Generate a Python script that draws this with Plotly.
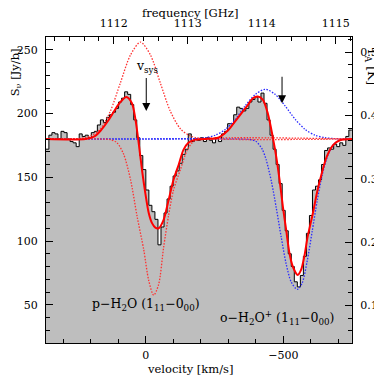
import plotly.graph_objects as go

# 通道速度 (km/s) 与观测流量 (Jy/beam)
velocity = [357, 346, 335, 324, 313, 302, 291, 280, 269, 258,
            247, 236, 225, 214, 203, 192, 181, 170, 159, 148,
            137, 126, 115, 104, 93, 82, 71, 60, 49, 38,
            27, 16, 5, -6, -17, -28, -39, -50, -61, -72,
            -83, -94, -105, -116, -127, -138, -149, -160, -171, -182,
            -193, -204, -215, -226, -237, -248, -259, -270, -281, -292,
            -303, -314, -325, -336, -347, -358, -369, -380, -391, -402,
            -413, -424, -435, -446, -457, -468, -479, -490, -501, -512,
            -523, -534, -545, -556, -567, -578, -589, -600, -611, -622,
            -633, -644, -655, -666, -677, -688, -699, -710, -721, -732,
            -743]
flux = [172, 183, 185, 184, 180, 186, 185, 180, 178, 177,
        174, 184, 182, 183, 181, 185, 186, 191, 195, 193,
        197, 199, 201, 204, 209, 212, 217, 215, 207, 195,
        181, 167, 156, 140, 128, 123, 117, 97, 111, 122,
        133, 143, 151, 155, 161, 168, 172, 184, 178, 180,
        179, 181, 178, 181, 179, 177, 181, 178, 184, 186,
        192, 192, 199, 205, 204, 202, 204, 209, 211, 213,
        209, 216, 208, 195, 183, 172, 160, 145, 124, 108,
        90, 80, 68, 64, 73, 88, 106, 120, 140, 143,
        148, 160, 171, 173, 172, 176, 174, 177, 175, 182,
        187]
chan_width = 11

# 总拟合曲线 (红色实线)
fit_v = [362, 218, 186, 162, 139, 117, 92, 70, 50, 37, 25, 13, 1, -11, -23, -35, -47,
         -65, -83, -101, -120, -137, -155, -179, -216, -263, -300, -324, -348, -372,
         -389, -407, -425, -443, -462, -474, -486, -498, -510, -522, -534, -552, -564,
         -576, -588, -607, -621, -633, -657, -681, -705, -749]
fit_s = [180, 180, 182, 187, 193.5, 201, 209, 213, 208, 195, 176, 155, 137, 122, 114, 110.5, 110,
         116.6, 132, 148, 160, 171.5, 177, 179.5, 180, 181, 187, 193.7, 200.3, 207,
         212, 213.3, 210.8, 200.3, 180.7, 166, 148, 127, 108.7, 90.4, 80, 73.4, 77.3,
         88, 103.4, 121.8, 137, 148, 166, 175.4, 179, 180]

# p-H2O 分量 (红色点线): 发射 + 吸收
ph2o_em_v = [362, 237, 200, 164, 128, 92, 55, 19, -17, -53, -89, -126, -162, -198, -749]
ph2o_em_s = [180, 180.5, 182.4, 188, 202, 224, 246, 256, 246, 224, 202, 188, 182.4, 180.5, 180]
ph2o_abs_v = [362, 164, 128, 104, 80, 55, 31, 7, -11, -29, -47, -65, -83, -101, -126, -150, -173, -198, -749]
ph2o_abs_s = [180, 180, 179.5, 177, 168, 148, 119, 93, 69, 57.5, 66, 95, 120, 140, 156, 171, 178, 180, 180]

# o-H2O+ 分量 (蓝色点线): 发射 + 吸收
oh2op_em_v = [362, -180, -216, -253, -289, -325, -361, -398, -434, -470, -506, -543, -579, -615, -651, -687, -749]
oh2op_em_s = [180, 180.3, 181, 183, 187.5, 195.4, 206, 215, 219, 215, 206, 195.4, 187.5, 183, 181, 180.3, 180]
oh2op_abs_v = [362, -343, -379, -401, -423, -437, -457, -474, -492, -510, -528, -550, -568, -586,
               -604, -623, -641, -663, -688, -725, -749]
oh2op_abs_s = [180, 180, 179.6, 178, 172, 164, 146, 126, 103, 82, 68, 62, 67, 84,
               107, 132, 152, 168, 177, 180, 180]

FONT = "DejaVu Serif"
v_range = [362, -749]
freq_range = [1111.085, 1115.22]
s_range = [20, 260]
ta_range = [0.041, 0.524]

fig = go.Figure()

# 阶梯直方图 (灰色填充)
edges = [v + chan_width / 2 for v in velocity] + [velocity[-1] - chan_width / 2]
fig.add_trace(go.Scatter(
    x=edges, y=flux + [flux[-1]],
    mode='lines', line=dict(shape='hv', color='black', width=1),
    fill='tozeroy', fillcolor='#bebebe', showlegend=False, hoverinfo='skip'
))

for vv, ss, col in [(oh2op_em_v, oh2op_em_s, '#2a2aff'), (oh2op_abs_v, oh2op_abs_s, '#2a2aff'),
                    (ph2o_em_v, ph2o_em_s, '#ff3030'), (ph2o_abs_v, ph2o_abs_s, '#ff3030')]:
    fig.add_trace(go.Scatter(
        x=vv, y=ss, mode='lines',
        line=dict(color=col, width=1.3, dash='1.5px,1.5px', shape='spline', smoothing=0.8),
        showlegend=False, hoverinfo='skip'
    ))

fig.add_trace(go.Scatter(
    x=fit_v, y=fit_s, mode='lines',
    line=dict(color='#ff0000', width=2, shape='spline', smoothing=0.8),
    showlegend=False, hoverinfo='skip'
))

# 上方频率轴、右侧 T_A 轴
fig.add_trace(go.Scatter(x=[], y=[], xaxis='x2', yaxis='y2', showlegend=False))

tick_font = dict(family=FONT, size=11, color='black')
common = dict(showline=True, linecolor='black', linewidth=1, showgrid=False, zeroline=False,
              ticks='inside', ticklen=7, tickcolor='black', tickfont=tick_font,
              automargin=False)

# 页面 body 默认有 8px 边距，所以边距各减 8
fig.update_layout(
    width=382, height=375,
    margin=dict(l=38, r=38, t=29, b=40),
    plot_bgcolor='white', paper_bgcolor='white',
    xaxis=dict(range=v_range, tickvals=[0, -500], ticklabelstandoff=2,
               minor=dict(dtick=100, tick0=0, ticks='inside', ticklen=4, tickcolor='black'),
               **common),
    yaxis=dict(range=s_range, tickvals=[50, 100, 150, 200, 250], ticklabelstandoff=5,
               minor=dict(dtick=10, tick0=0, ticks='inside', ticklen=4, tickcolor='black'),
               **common),
    xaxis2=dict(range=freq_range, overlaying='x', side='top', anchor='y', ticklabelstandoff=5,
                tickvals=[1112, 1113, 1114, 1115],
                minor=dict(dtick=0.2, tick0=1111, ticks='inside', ticklen=4, tickcolor='black'),
                **common),
    yaxis2=dict(range=ta_range, overlaying='y', side='right', anchor='x', ticklabelstandoff=5,
                tickvals=[0.1, 0.2, 0.3, 0.4, 0.5], ticktext=['0.1', '0.2', '0.3', '0.4', '0.5'],
                minor=dict(dtick=0.02, tick0=0, ticks='inside', ticklen=4, tickcolor='black'),
                **common),
)

lab_font = dict(family=FONT, size=12.5, color='black')
edge_font = dict(family=FONT, size=11.5, color='black')
c = dict(xanchor='center', yanchor='middle', showarrow=False, font=lab_font)
e = dict(xanchor='center', yanchor='middle', showarrow=False, font=edge_font)
ann = [
    dict(text='frequency [GHz]', x=0.47, y=1.077, xref='paper', yref='paper', **e),
    dict(text='velocity [km/s]', x=0.47, y=-0.0835, xref='paper', yref='paper', **e),
    dict(text='S<sub>ν</sub> [Jy/b]', x=-0.101, y=0.885, xref='paper', yref='paper',
         textangle=-90, **e),
    dict(text='T<sub>A</sub> [K]', x=1.064, y=0.905, xref='paper', yref='paper',
         textangle=90, **c),
    dict(text='p−H<sub>2</sub>O (1<sub>11</sub>−0<sub>00</sub>)', x=0, y=50, xref='x', yref='y', **c),
    dict(text='o−H<sub>2</sub>O<sup>+</sup> (1<sub>11</sub>−0<sub>00</sub>)', x=-480, y=40,
         xref='x', yref='y', **c),
    dict(text='v<sub>sys</sub>', x=-5, y=237, xref='x', yref='y', **c),
    dict(x=-2, y=202, ax=-2, ay=229, xref='x', yref='y', axref='x', ayref='y', text='',
         showarrow=True, arrowhead=2, arrowsize=1.6, arrowwidth=1, arrowcolor='black'),
    dict(x=-495, y=208, ax=-495, ay=230, xref='x', yref='y', axref='x', ayref='y', text='',
         showarrow=True, arrowhead=2, arrowsize=1.6, arrowwidth=1, arrowcolor='black'),
]
fig.update_layout(annotations=ann)

fig.write_html("out.html")
